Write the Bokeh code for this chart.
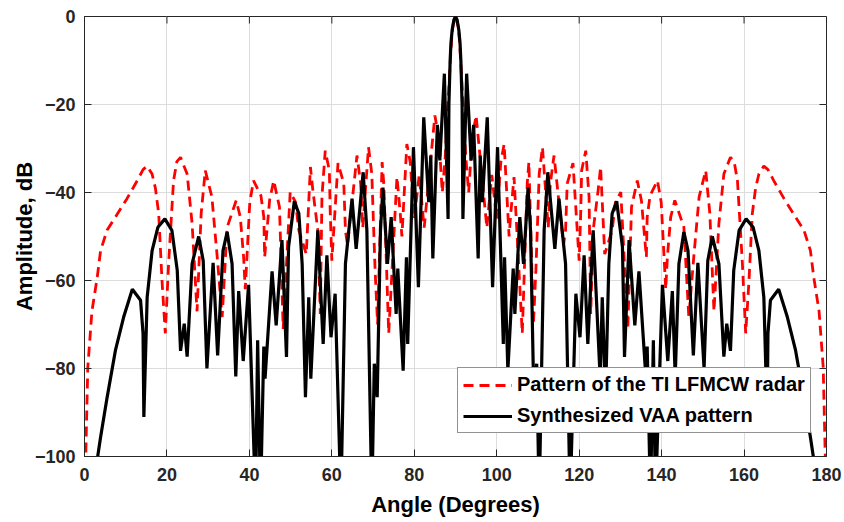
import math
from bokeh.plotting import figure
from bokeh.models import Range1d, FixedTicker, Legend, LegendItem
from bokeh.embed import file_html
from bokeh.resources import INLINE

# ---- data ----
x_ticks = [0, 20, 40, 60, 80, 100, 120, 140, 160, 180]
y_ticks = [-100, -80, -60, -40, -20, 0]

ti_angle = [
    0.0, 0.3, 0.8, 1.8, 3.1, 3.9, 5.5, 7.5, 10.3, 12.8, 14.2, 15.2, 16.4, 17.2, 18.0, 18.8, 19.6,
    20.4, 21.6, 22.4, 23.3, 24.9, 26.1, 27.3, 28.3, 29.3, 30.9, 32.2, 33.4, 34.6, 36.8, 37.8,
    38.6, 39.0, 40.1, 41.0, 42.8, 43.5, 43.7, 44.9, 45.9, 47.3, 48.2, 49.9, 51.2, 52.0, 53.8,
    54.8, 55.4, 56.6, 57.2, 57.6, 58.4, 59.4, 59.6, 60.0, 61.5, 62.9, 63.3, 63.8, 66.1, 67.0,
    67.5, 68.9, 69.7, 70.1, 70.5, 71.1, 72.2, 72.6, 73.8, 75.8, 76.6, 77.0, 78.2, 79.0, 80.0,
    81.2, 82.4, 85.0, 86.0, 86.8, 87.5, 88.0, 88.4, 88.7, 89.1, 89.4, 90.0,
    90.6, 90.9, 91.3, 91.6, 92.0, 92.5, 93.2, 94.0, 95.0, 97.6, 98.8, 100.0, 101.0, 101.8,
    103.0, 103.4, 104.2, 106.2, 107.4, 107.8, 108.9, 109.5, 109.9, 110.3, 111.1, 112.5, 113.0,
    113.9, 116.2, 116.7, 117.1, 118.5, 120.0, 120.4, 120.6, 121.6, 122.4, 122.8, 123.4, 124.6,
    125.2, 126.2, 128.0, 128.8, 130.1, 131.8, 132.7, 134.1, 135.1, 136.3, 136.5, 137.2, 139.0,
    139.9, 141.0, 141.4, 142.2, 143.2, 145.4, 146.6, 147.8, 149.1, 150.7, 151.7, 152.7, 153.9,
    155.1, 156.7, 157.6, 158.4, 159.6, 160.4, 161.2, 162.0, 162.8, 163.6, 164.8, 165.8, 167.2,
    169.7, 172.5, 174.5, 176.1, 176.9, 178.2, 179.2, 179.7, 180.0,
]
ti_db = [
    -110, -100, -79.7, -67.0, -59.2, -53.2, -48.5, -45.6, -41.4, -37.3, -34.8, -34.0, -35.8, -39.0,
    -44.8, -60.0, -72.0,
    -56.2, -37.3, -33.0, -32.0, -35.8, -47.0, -67.0, -44.8, -35.0, -41.0, -54.7, -68.3, -47.9,
    -41.8, -45.6,
    -54.7, -62.0, -42.2, -37.3, -40.7, -45.6, -54.7, -41.8, -37.3, -43.3, -71.0, -39.9, -42.2,
    -48.6, -54.0,
    -34.2, -39.5, -48.6, -67.6, -41.0, -30.5, -35.0, -44.0, -55.5, -33.3, -38.0, -48.6, -52.0,
    -31.6, -38.0,
    -48.0, -29.7, -35.8, -47.0, -57.7, -70.0, -33.1, -38.0, -72.0, -36.5, -44.8, -50.0, -29.0,
    -33.0, -46.0,
    -36.0, -48.0, -22.5, -28.0, -40.0, -32.0, -23.0, -16.0, -10.8, -4.7, -2.0, 0.0,
    -2.0, -4.7, -10.8, -16.0, -23.0, -32.0, -40.0, -28.0, -22.5, -48.0, -36.0, -46.0, -33.0,
    -29.0,
    -50.0, -44.8, -36.5, -72.0, -38.0, -33.1, -70.0, -57.7, -47.0, -35.8, -29.7, -48.0, -38.0,
    -31.6, -52.0, -48.6, -38.0, -33.3, -55.5, -44.0, -35.0, -30.5, -41.0, -67.6, -48.6, -39.5,
    -34.2, -54.0, -48.6, -42.2, -39.9, -71.0, -43.3, -37.3, -41.8, -54.7, -45.6, -40.7, -37.3,
    -42.2, -62.0, -54.7, -45.6, -41.8, -47.9, -68.3, -54.7, -41.0, -35.0, -44.8, -67.0, -47.0,
    -35.8, -32.0, -33.0, -37.3, -56.2, -72.0, -60.0, -44.8, -39.0, -35.8, -34.0, -34.8, -37.3,
    -41.4, -45.6, -48.5, -53.2, -59.2, -67.0, -79.7, -100, -110,
]

vaa_angle = [
    2.8, 3.2, 3.9, 5.5, 7.5, 9.5, 11.6, 13.6, 14.2, 14.4, 15.2, 16.4, 17.8, 19.5, 21.2, 22.5,
    23.3, 24.2, 24.9, 26.1, 27.7, 28.8, 29.7, 31.2, 32.3, 33.6, 34.6, 35.8, 36.7, 37.4, 38.5,
    39.8, 41.5, 42.0, 42.7, 43.5, 43.8, 45.5, 46.5, 47.9, 49.0, 49.5, 50.9, 52.0, 52.8, 53.6,
    54.4, 54.9, 56.6, 57.9, 58.8, 59.8, 60.8, 62.2, 63.3, 64.9, 65.9, 67.6, 68.5, 69.7, 70.3,
    71.0, 71.8, 72.4, 73.5, 74.4, 75.6, 76.0, 77.3, 78.1, 78.4, 79.8, 81.0, 82.3, 83.5, 84.0,
    84.5, 85.6, 86.2, 87.3, 88.2, 88.4, 88.7, 88.9, 89.2, 89.6, 90.0,
    90.4, 90.8, 91.1, 91.3, 91.6, 91.8, 92.7, 93.8, 94.4, 95.5, 96.0, 96.5, 97.7, 99.0, 100.2,
    101.6, 101.9, 102.7, 104.0, 104.4, 105.6, 106.5, 107.6, 108.2, 109.0, 109.7, 110.3, 111.5,
    112.4, 114.1, 115.1, 116.7, 117.8, 119.2, 120.2, 121.2, 122.1, 123.4, 125.1, 125.6, 126.4,
    127.2, 128.0, 129.1, 130.5, 131.0, 132.1, 133.5, 134.5, 136.2, 136.5, 137.3, 138.0, 138.5,
    140.2, 141.5, 142.6, 143.3, 144.2, 145.4, 146.4, 147.7, 148.8, 150.3, 151.2, 152.3, 153.9,
    155.1, 155.8, 156.7, 157.5, 158.8, 160.5, 162.2, 163.6, 164.8, 165.6, 165.8, 166.4, 168.4,
    170.5, 172.5, 174.5, 176.1, 176.8, 177.2,
]
vaa_db = [
    -110, -100, -95.6, -86.5, -75.9, -68.3, -62.0, -64.5, -72.0, -91.0, -63.8, -53.2, -47.9,
    -46.0, -48.6, -57.7,
    -76.0, -69.8, -77.3, -56.2, -50.0, -55.5, -80.0, -56.0, -77.0, -53.2, -49.0, -56.2, -81.8,
    -62.4, -78.3,
    -61.0, -110, -73.6, -110, -75.0, -82.3, -57.9, -70.2, -50.8, -77.4, -52.4, -42.0, -44.8,
    -56.2, -86.5,
    -63.8, -82.3, -48.6, -74.4, -54.3, -72.9, -63.0, -110, -56.2, -41.4, -52.8, -35.4, -48.6,
    -110, -78.9,
    -86.5, -48.6, -38.9, -56.2, -45.6, -67.6, -57.3, -80.5, -54.7, -74.4, -29.7, -61.5, -22.9,
    -42.2, -31.6,
    -55.0, -24.6, -32.7, -13.0, -46.0, -20.0, -10.0, -6.0, -3.0, -0.8, 0.0,
    -0.8, -3.0, -6.0, -10.0, -20.0, -46.0, -13.0, -32.7, -24.6, -55.0, -31.6, -42.2, -22.9,
    -61.5, -29.7,
    -74.4, -54.7, -80.5, -57.3, -67.6, -45.6, -56.2, -38.9, -48.6, -86.5, -78.9, -110, -48.6,
    -35.4, -52.8, -41.4, -56.2, -110, -63.0, -72.9, -54.3, -74.4, -48.6, -82.3, -63.8, -86.5,
    -56.2, -44.8, -42.0, -52.4, -77.4, -50.8, -70.2, -57.9, -82.3, -75.0, -110, -73.6, -110,
    -61.0, -78.3, -62.4, -81.8, -56.2, -49.0, -53.2, -77.0, -56.0, -80.0, -55.5, -50.0, -56.2,
    -77.3, -69.8, -76.0, -57.7, -48.6, -46.0, -47.9, -53.2, -63.8, -91.0, -72.0, -64.5, -62.0,
    -68.3, -75.9, -86.5, -95.6, -100, -110,
]

series_labels = ["Pattern of the TI LFMCW radar", "Synthesized VAA pattern"]

FONT = "Liberation Sans"
TXT = "#262626"

p = figure(width=844, height=522, output_backend="svg", toolbar_location=None,
           x_range=Range1d(0, 180), y_range=Range1d(-100, 0),
           min_border_left=84, min_border_right=18, min_border_top=16, min_border_bottom=66,
           background_fill_color="white", border_fill_color="white")
p.outline_line_color = TXT
p.outline_line_width = 1

for ax in (p.xaxis[0], p.yaxis[0]):
    ax.major_label_text_font = FONT
    ax.major_label_text_font_style = "bold"
    ax.major_label_text_font_size = "18px"
    ax.major_label_text_color = TXT
    ax.axis_label_text_font = FONT
    ax.axis_label_text_font_style = "bold"
    ax.axis_label_text_font_size = "22px"
    ax.axis_label_text_color = "#000000"
    ax.axis_line_color = TXT
    ax.major_tick_line_color = TXT
    ax.major_tick_in = 7
    ax.major_tick_out = 0
    ax.minor_tick_in = 0
    ax.minor_tick_out = 0

p.xaxis[0].ticker = FixedTicker(ticks=x_ticks)
p.yaxis[0].ticker = FixedTicker(ticks=y_ticks)
p.xaxis[0].axis_label = "Angle (Degrees)"
p.yaxis[0].axis_label = "Amplitude, dB"
p.xaxis[0].major_label_standoff = 11
p.yaxis[0].major_label_standoff = 9
p.xaxis[0].axis_label_standoff = 8
p.yaxis[0].axis_label_standoff = -5

p.xgrid.ticker = FixedTicker(ticks=x_ticks)
p.ygrid.ticker = FixedTicker(ticks=y_ticks)
p.grid.grid_line_color = "#dcdcdc"
p.grid.grid_line_width = 1

# inward tick marks on the top and right edges of the box
p.ray(x=x_ticks, y=[y_ticks[-1]] * len(x_ticks), length=7, length_units="screen",
      angle=-math.pi / 2, line_color=TXT, line_width=1)
p.ray(x=[x_ticks[-1]] * len(y_ticks), y=y_ticks, length=7, length_units="screen",
      angle=math.pi, line_color=TXT, line_width=1)

r_ti = p.line(ti_angle, ti_db, line_color="#ff0000", line_width=2.8, line_dash="10 6")
r_vaa = p.line(vaa_angle, vaa_db, line_color="#000000", line_width=3.2)

legend = Legend(items=[LegendItem(label=series_labels[0], renderers=[r_ti]),
                       LegendItem(label=series_labels[1], renderers=[r_vaa])],
                location=(373, 23), margin=0, padding=5, spacing=8,
                glyph_width=49, glyph_height=20, label_height=20, label_standoff=5,
                label_text_font=FONT, label_text_font_style="bold",
                label_text_font_size="20px", label_text_color="#000000",
                border_line_color=TXT, border_line_width=1,
                background_fill_color="white", background_fill_alpha=1.0)
p.add_layout(legend, "center")

open("out.html", "w").write(file_html(p, INLINE))
